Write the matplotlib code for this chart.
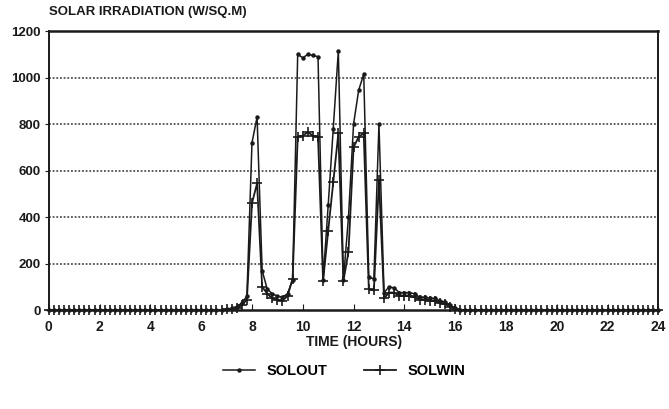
import numpy as np
import matplotlib
matplotlib.use("Agg")
import matplotlib.pyplot as plt
from matplotlib.lines import Line2D

# 12-minute samples over the day (0 .. 24 h)
hours = np.round(np.arange(121) * 0.2, 1)

# active part of the day, 7.0 h .. 16.2 h
solout_day = [3, 8, 15, 30, 60, 720, 830, 170, 90, 70, 60, 55, 70, 130,
              1100, 1085, 1100, 1095, 1090, 130, 450, 780, 1115, 130,
              400, 800, 945, 1015, 140, 135, 800, 75, 100, 95, 75, 75, 75,
              70, 55, 55, 50, 50, 40, 35, 20, 8, 0]
solwin_day = [3, 5, 10, 20, 45, 460, 545, 100, 70, 50, 45, 40, 60, 135,
              745, 750, 765, 750, 745, 125, 340, 550, 760, 125,
              250, 700, 745, 760, 90, 85, 560, 50, 75, 75, 60, 60, 60,
              55, 45, 45, 40, 40, 30, 25, 15, 5, 0]

solout = [0] * 35 + solout_day + [0] * 39
solwin = [0] * 35 + solwin_day + [0] * 39

x_ticks = list(range(0, 25, 2))
y_ticks = list(range(0, 1201, 200))

plt.rcParams["font.family"] = ["Liberation Sans", "DejaVu Sans"]
plt.rcParams["font.weight"] = "bold"

ink = "#1a1a1a"
fig = plt.figure(figsize=(6.69, 4.09), dpi=100)
ax = fig.add_axes([0.073, 0.242, 0.911, 0.682])

ax.plot(hours, solout, color=ink, lw=1.1, marker="o", ms=2.2, clip_on=False,
        zorder=3)
ax.plot(hours, solwin, color=ink, lw=1.3, marker="+", ms=7.5, mew=1.2,
        clip_on=False, zorder=3)

ax.set_xlim(0, 24)
ax.set_ylim(0, 1200)
ax.set_xticks(x_ticks)
ax.set_yticks(y_ticks)
ax.tick_params(axis="x", direction="in", length=4, labelsize=10, pad=7,
               colors=ink)
ax.tick_params(axis="y", direction="out", length=3, labelsize=9.5, pad=3,
               colors=ink)
for lab in ax.get_xticklabels() + ax.get_yticklabels():
    lab.set_fontweight("bold")

for v in y_ticks[1:-1]:
    ax.axhline(v, color="#333333", lw=1.1, ls=(0, (1.2, 1.2)), zorder=0)

for sp in ax.spines.values():
    sp.set_color(ink)
    sp.set_linewidth(1.4)
ax.spines["top"].set_linewidth(1.8)
ax.spines["bottom"].set_linewidth(1.8)

ax.set_xlabel("TIME (HOURS)", fontsize=10, fontweight="bold", labelpad=1,
              color=ink)
fig.text(0.073, 0.955, "SOLAR IRRADIATION (W/SQ.M)", fontsize=9.5,
         fontweight="bold", color=ink, ha="left", va="bottom")

handles = [Line2D([], [], color=ink, lw=1.1, marker="o", ms=2.2),
           Line2D([], [], color=ink, lw=1.3, marker="+", ms=7.5, mew=1.2)]
fig.legend(handles, ["SOLOUT", "SOLWIN"], loc="center",
           bbox_to_anchor=(0.515, 0.092), ncol=2, frameon=False,
           handlelength=2.2, columnspacing=2.5,
           prop={"weight": "bold", "size": 10.5})

fig.savefig("out.png", dpi=100)
